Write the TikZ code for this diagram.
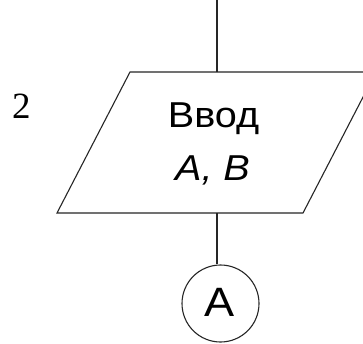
\documentclass[tikz,border=0pt]{standalone}
\usepackage{fontspec}
\setmainfont{Liberation Serif}
\newfontfamily\lblfont[FakeStretch=1.1]{Liberation Sans}
\begin{document}
\begin{tikzpicture}[x=1pt,y=1pt,
  flow/.style={line width=1.1pt, draw=black!85},
  inlabel/.style={inner sep=0pt, font=\lblfont\fontsize{36}{40}\selectfont},
  conntext/.style={inner sep=0pt, font=\lblfont\fontsize{41}{46}\selectfont},
  numlabel/.style={inner sep=0pt, font=\fontsize{37}{40}\selectfont}]
  \useasboundingbox (0,0) rectangle (363,343);
  \clip (0,0) rectangle (363,343);
  \fill[white] (0,0) rectangle (363,343);

  % input block (parallelogram), its right corner runs off the page
  \coordinate (ioNW) at (130,271);
  \coordinate (ioNE) at (376,271);
  \coordinate (ioSE) at (303,130);
  \coordinate (ioSW) at (57,130);
  \coordinate (ioN) at (217,271);
  \coordinate (ioS) at (217,130);
  \coordinate (entry) at (217,343);
  \draw[flow] (ioNW) -- (ioNE) -- (ioSE) -- (ioSW) -- cycle;

  \node[inlabel, anchor=base] (io) at (213.5,215) {Ввод};
  \node[inlabel, anchor=base] (ioargs) at (212.5,163) {\itshape A, B};

  % block number
  \node[numlabel, anchor=base west] (num) at (12,224) {2};

  % off-page connector
  \node[flow, circle, minimum size=77pt, inner sep=0pt] (conn) at (220.5,39.5) {};
  \node[conntext, anchor=base] (connlbl) at (219.5,27) {A};

  % flow lines
  \draw[flow] (entry) -- (ioN);
  \draw[flow] (ioS) -- (ioS |- conn.north);
\end{tikzpicture}
\end{document}
